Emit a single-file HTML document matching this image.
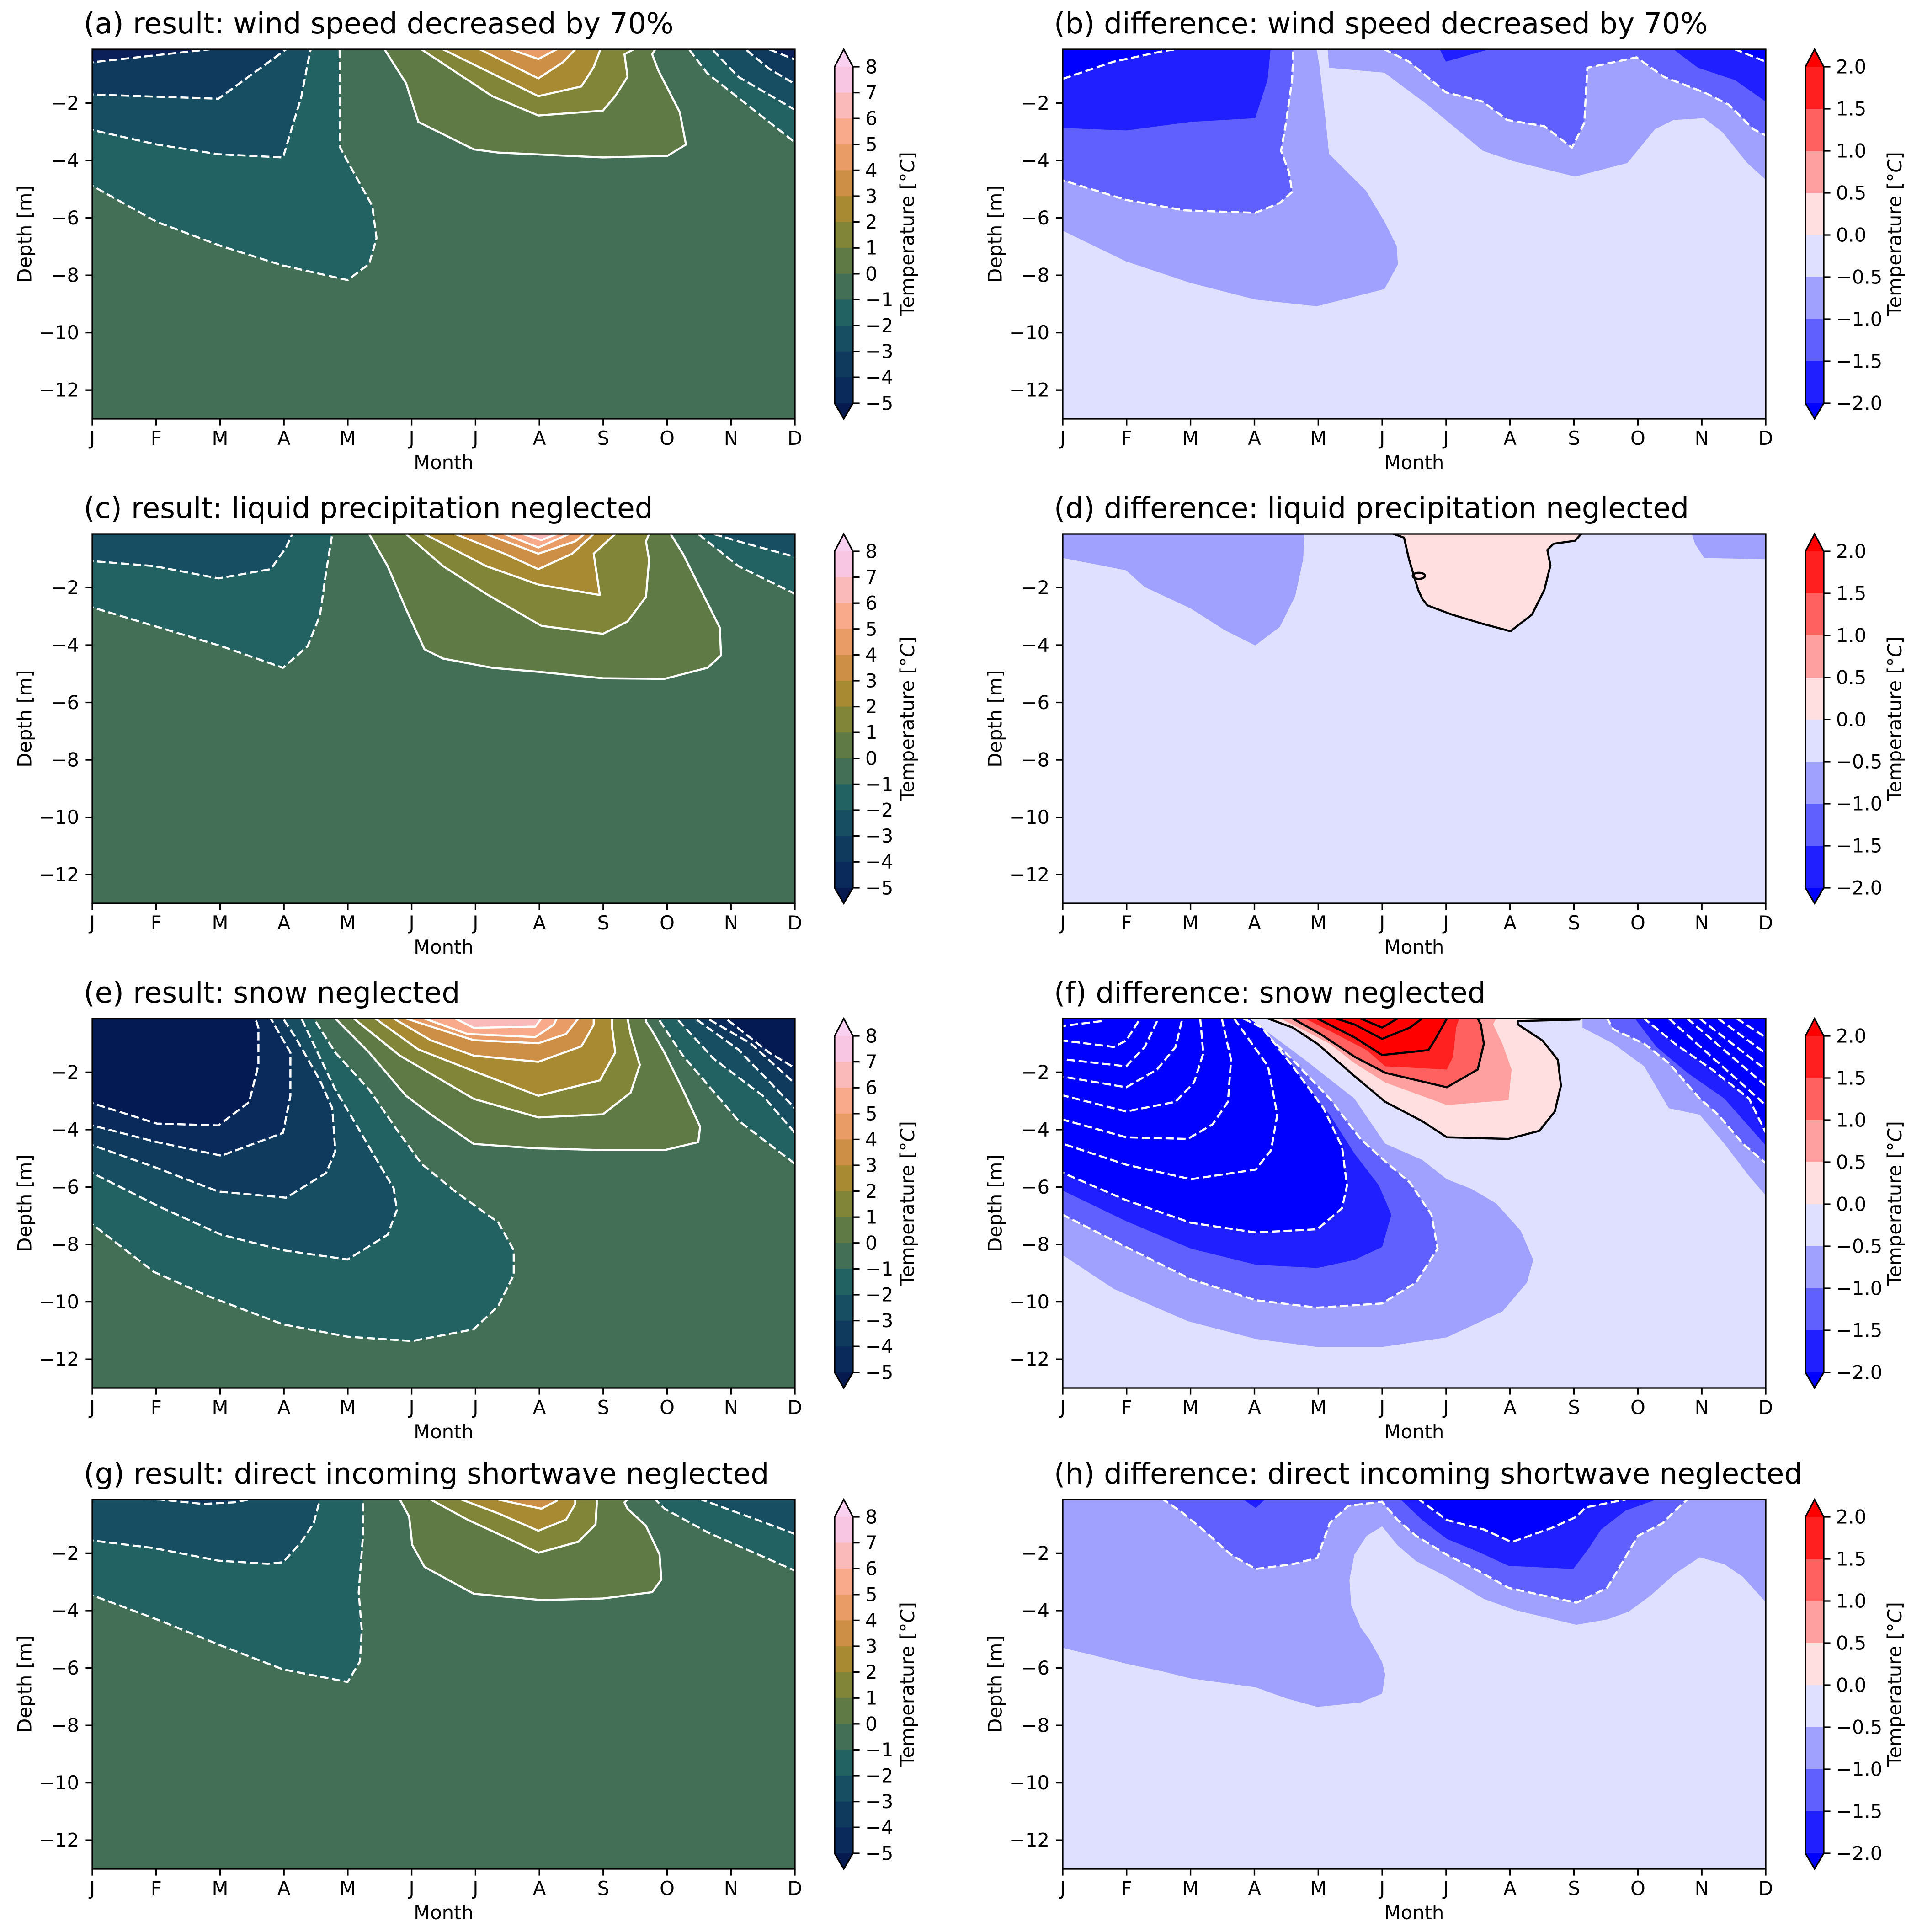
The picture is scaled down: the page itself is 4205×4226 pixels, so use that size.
<!DOCTYPE html>
<html><head><meta charset="utf-8"><style>
html,body{margin:0;padding:0;background:#fff}
svg{display:block}
text{font-family:"DejaVu Sans","Liberation Sans",sans-serif;fill:#000}
.n{stroke:#fff;stroke-width:4.5px;stroke-dasharray:18 8;vector-effect:non-scaling-stroke;stroke-linejoin:round}
.nl{fill:none;stroke:#fff;stroke-width:4.5px;stroke-dasharray:18 8;vector-effect:non-scaling-stroke;stroke-linejoin:round}
.s{stroke:#fff;stroke-width:4.5px;vector-effect:non-scaling-stroke;stroke-linejoin:round}
.k{stroke:#000;stroke-width:4.5px;vector-effect:non-scaling-stroke;stroke-linejoin:round}
.kl{fill:none;stroke:#000;stroke-width:4.5px;vector-effect:non-scaling-stroke}
.t{font-size:41.7px}
.ti{font-size:63px}
.tk{stroke:#000;stroke-width:3.3px;fill:none}
.fr{fill:none;stroke:#000;stroke-width:3.3px}
</style></head><body>
<svg width="4205" height="4226" viewBox="0 0 4205 4226" xmlns="http://www.w3.org/2000/svg">
<defs>
<clipPath id="c1"><rect x="202" y="108" width="1537" height="808"/></clipPath>
<clipPath id="c2"><rect x="2325" y="108" width="1538" height="808"/></clipPath>
<clipPath id="c3"><rect x="202" y="1168" width="1537" height="808"/></clipPath>
<clipPath id="c4"><rect x="2325" y="1168" width="1538" height="808"/></clipPath>
<clipPath id="c5"><rect x="202" y="2228" width="1537" height="808"/></clipPath>
<clipPath id="c6"><rect x="2325" y="2228" width="1538" height="808"/></clipPath>
<clipPath id="c7"><rect x="202" y="3280" width="1537" height="808"/></clipPath>
<clipPath id="c8"><rect x="2325" y="3280" width="1538" height="808"/></clipPath>
</defs>
<rect width="4205" height="4226" fill="#fff"/>

<!-- (a) -->
<g clip-path="url(#c1)">
<rect x="202" y="108" width="1537" height="808" fill="#426f55"/>
<g transform="translate(0.1,-1.4) scale(1.3459,0.7057)">
<path class="n" fill="#236262" d="M100,578 L150,578 L255,690 L360,765 L460,825 L565,870 L600,820 L612,740 L605,640 L570,520 L553,460 L552,155 L552,120 L100,120 Z"/>
<path class="n" fill="#236262" d="M1120,120 L1120,155 L1150,230 L1290,440 L1340,445 L1340,120 Z"/>
<path class="n" fill="#174e62" d="M100,405 L150,405 L255,450 L355,480 L460,490 L490,300 L500,200 L505,155 L505,120 L100,120 Z"/>
<path class="n" fill="#174e62" d="M1160,120 L1160,160 L1200,240 L1290,340 L1340,340 L1340,120 Z"/>
<path class="n" fill="#0f3a5e" d="M100,300 L150,295 L355,308 L465,155 L465,120 L100,120 Z"/>
<path class="n" fill="#0f3a5e" d="M1215,120 L1215,160 L1250,215 L1290,260 L1340,260 L1340,120 Z"/>
<path class="n" fill="#0b2058" d="M100,195 L150,195 L340,155 L340,120 L100,120 Z"/>
<path class="n" fill="#0b2058" d="M1250,120 L1250,155 L1290,185 L1340,185 L1340,120 Z"/>
<path class="s" fill="#5f7a45" d="M625,120 L625,155 L660,260 L680,380 L770,465 L810,475 L980,490 L1085,485 L1115,450 L1105,350 L1070,220 L1060,170 L1065,155 L1065,120 Z"/>
<path class="s" fill="#808538" d="M685,120 L685,155 L800,300 L875,360 L980,345 L1000,300 L1020,240 L1015,170 L1030,155 L1030,120 Z"/>
<path class="s" fill="#a88a33" d="M720,120 L720,155 L800,230 L875,300 L945,270 L965,210 L975,160 L975,120 Z"/>
<path class="s" fill="#cc8f45" d="M780,120 L780,155 L875,245 L915,195 L935,155 L935,120 Z"/>
<path class="s" fill="#e99c66" d="M830,120 L830,155 L875,185 L905,155 L905,120 Z"/>
</g></g>

<!-- (b) -->
<g clip-path="url(#c2)">
<rect x="2325" y="108" width="1538" height="808" fill="#dfdfff"/>
<g transform="translate(2100.3,0.4) scale(1.3456,1.3444)">
<path fill="#a0a0ff" d="M120,40 L120,375 L167,375 L270,425 L375,460 L480,487 L580,498 L690,470 L712,430 L710,400 L690,360 L660,310 L600,250 L595,200 L585,110 L580,80 L580,40 Z"/>
<path fill="#a0a0ff" d="M598,40 L598,80 L600,110 L690,118 L760,170 L850,245 L900,262 L1000,287 L1085,265 L1130,210 L1160,195 L1210,192 L1240,215 L1280,265 L1310,292 L1360,292 L1360,40 Z"/>
<path class="n" fill="#6060ff" d="M120,40 L120,293 L167,293 L270,325 L365,342 L480,346 L520,330 L540,312 L535,280 L522,245 L530,200 L540,130 L542,80 L542,40 Z"/>
<path class="n" fill="#6060ff" d="M690,40 L690,80 L730,100 L790,150 L850,165 L890,195 L950,205 L995,240 L1015,200 L1020,110 L1100,93 L1145,125 L1210,150 L1250,170 L1290,210 L1310,220 L1360,220 L1360,40 Z"/>
<path fill="#1f1fff" d="M120,40 L120,208 L167,208 L270,212 L375,198 L480,192 L500,130 L505,80 L505,40 Z"/>
<path fill="#1f1fff" d="M1160,40 L1160,80 L1200,110 L1260,130 L1310,165 L1360,165 L1360,40 Z"/>
<path fill="#1f1fff" d="M780,40 L780,80 L790,100 L860,80 L860,40 Z"/>
<path class="n" fill="#0000ff" d="M120,40 L120,128 L167,128 L250,100 L330,83 L350,80 L350,40 Z"/>
<path class="n" fill="#0000ff" d="M1260,40 L1260,80 L1310,100 L1360,100 L1360,40 Z"/>
</g></g>

<!-- (c) -->
<g clip-path="url(#c3)">
<rect x="202" y="1168" width="1537" height="808" fill="#426f55"/>
<g transform="translate(0.1,1049.3) scale(1.3459,1.3489)">
<path class="n" fill="#236262" d="M100,207 L150,207 L260,240 L360,270 L460,305 L500,270 L520,220 L530,150 L540,88 L540,50 L100,50 Z"/>
<path class="n" fill="#236262" d="M1135,50 L1135,88 L1200,140 L1292,185 L1340,185 L1340,50 Z"/>
<path class="n" fill="#174e62" d="M100,132 L150,132 L250,140 L355,160 L440,145 L465,110 L475,88 L475,50 L100,50 Z"/>
<path class="n" fill="#174e62" d="M1160,50 L1160,88 L1200,100 L1292,125 L1340,125 L1340,50 Z"/>
<path class="s" fill="#5f7a45" d="M600,50 L600,88 L630,140 L660,210 L690,275 L720,290 L800,305 L880,312 L980,322 L1080,323 L1150,305 L1172,285 L1170,240 L1150,200 L1110,120 L1090,88 L1090,50 Z"/>
<path class="s" fill="#808538" d="M660,50 L660,88 L720,140 L790,185 L880,237 L980,250 L1020,230 L1050,190 L1055,130 L1050,100 L1055,88 L1055,50 Z"/>
<path class="s" fill="#a88a33" d="M690,50 L690,88 L790,140 L875,170 L975,187 L965,120 L1000,88 L1000,50 Z"/>
<path class="s" fill="#cc8f45" d="M740,50 L740,88 L820,120 L875,145 L930,120 L965,88 L965,50 Z"/>
<path class="s" fill="#e99c66" d="M790,50 L790,88 L875,120 L935,100 L950,88 L950,50 Z"/>
<path class="s" fill="#f9aa8b" d="M820,50 L820,88 L875,110 L925,88 L925,50 Z"/>
<path class="s" fill="#fbbaba" d="M850,50 L850,88 L880,98 L905,88 L905,50 Z"/>
</g></g>

<!-- (d) -->
<g clip-path="url(#c4)">
<rect x="2325" y="1168" width="1538" height="808" fill="#dfdfff"/>
<g transform="translate(2100.3,-2.3) scale(1.3456,1.3467)">
<path fill="#a0a0ff" d="M120,830 L120,908 L167,908 L270,928 L300,955 L375,990 L430,1025 L480,1050 L520,1020 L545,970 L558,910 L560,869 L560,830 Z"/>
<path fill="#a0a0ff" d="M1190,830 L1190,869 L1195,885 L1210,908 L1310,910 L1360,910 L1360,830 Z"/>
<path class="k" fill="#ffdfdf" d="M705,830 L705,869 L722,875 L730,910 L745,960 L752,975 L760,985 L800,1000 L850,1015 L895,1027 L930,1000 L950,960 L960,920 L955,895 L965,885 L1000,880 L1010,869 L1010,830 Z"/>
<ellipse class="kl" cx="746" cy="937" rx="10" ry="5"/>
</g></g>

<!-- (e) -->
<g clip-path="url(#c5)">
<rect x="202" y="2228" width="1537" height="808" fill="#426f55"/>
<g transform="translate(0.1,1045.7) scale(1.3459,1.3512)">
<path class="n" fill="#236262" d="M100,1208 L150,1208 L250,1285 L340,1325 L460,1370 L565,1390 L670,1397 L770,1378 L810,1340 L835,1290 L835,1250 L810,1205 L740,1155 L685,1110 L645,1055 L600,990 L545,930 L510,875 L510,840 L100,840 Z"/>
<path class="n" fill="#174e62" d="M100,1125 L150,1125 L260,1180 L360,1225 L460,1250 L565,1265 L630,1225 L645,1185 L640,1150 L610,1100 L575,1040 L545,990 L490,875 L490,840 L100,840 Z"/>
<path class="n" fill="#0f3a5e" d="M100,1080 L150,1080 L250,1115 L355,1155 L465,1165 L530,1125 L545,1090 L540,1020 L520,975 L480,905 L460,875 L460,840 L100,840 Z"/>
<path class="n" fill="#0b2a5c" d="M100,1048 L150,1048 L255,1075 L360,1097 L460,1060 L472,1000 L472,930 L440,875 L440,840 L100,840 Z"/>
<path class="n" fill="#041a52" d="M100,1012 L150,1012 L255,1045 L355,1048 L405,1010 L420,950 L420,890 L415,875 L415,840 L100,840 Z"/>
<path class="n" fill="#236262" d="M1070,840 L1070,875 L1110,935 L1200,1040 L1292,1110 L1340,1110 L1340,840 Z"/>
<path class="n" fill="#174e62" d="M1100,840 L1100,875 L1160,940 L1240,1000 L1292,1060 L1340,1060 L1340,840 Z"/>
<path class="n" fill="#0f3a5e" d="M1130,840 L1130,875 L1200,925 L1292,1020 L1340,1020 L1340,840 Z"/>
<path class="n" fill="#0b2a5c" d="M1150,840 L1150,875 L1220,915 L1292,980 L1340,980 L1340,840 Z"/>
<path class="n" fill="#041a52" d="M1180,840 L1180,875 L1250,930 L1292,955 L1340,955 L1340,840 Z"/>
<path class="s" fill="#5f7a45" d="M545,840 L545,875 L600,930 L660,1000 L700,1030 L770,1078 L870,1085 L980,1088 L1080,1088 L1135,1075 L1138,1050 L1110,990 L1080,930 L1060,895 L1050,880 L1050,840 Z"/>
<path class="s" fill="#808538" d="M575,840 L575,875 L650,935 L770,1005 L875,1035 L980,1030 L1025,995 L1040,950 L1025,900 L1020,875 L1020,840 Z"/>
<path class="s" fill="#a88a33" d="M610,840 L610,875 L680,925 L770,960 L875,1000 L975,975 L1000,930 L995,890 L995,875 L995,840 Z"/>
<path class="s" fill="#cc8f45" d="M640,840 L640,875 L700,910 L770,935 L875,945 L945,920 L965,885 L965,875 L965,840 Z"/>
<path class="s" fill="#e99c66" d="M660,840 L660,875 L770,910 L875,915 L920,900 L940,875 L940,840 Z"/>
<path class="s" fill="#f9aa8b" d="M690,840 L690,875 L760,900 L870,905 L900,885 L905,875 L905,840 Z"/>
<path class="s" fill="#fbbaba" d="M740,840 L740,875 L770,890 L870,888 L880,875 L880,840 Z"/>
</g></g>

<!-- (f) -->
<g clip-path="url(#c6)">
<rect x="2325" y="2228" width="1538" height="808" fill="#dfdfff"/>
<g transform="translate(2099.7,2106.6) scale(1.3491,0.7057)">
<path fill="#a0a0ff" d="M120,130 L120,905 L167,905 L250,1010 L370,1110 L480,1165 L580,1190 L685,1190 L790,1160 L880,1080 L920,990 L930,920 L910,830 L870,745 L830,700 L790,670 L750,610 L690,560 L640,420 L560,300 L470,172 L470,130 Z"/>
<path fill="#a0a0ff" d="M1010,130 L1010,172 L1010,200 L1060,250 L1110,320 L1150,450 L1200,470 L1240,560 L1280,660 L1307,720 L1350,720 L1350,130 Z"/>
<path class="n" fill="#6060ff" d="M120,130 L120,780 L167,780 L270,880 L375,980 L480,1045 L580,1068 L685,1055 L740,990 L775,885 L765,780 L730,680 L690,615 L650,545 L600,420 L540,300 L470,172 L470,130 Z"/>
<path class="n" fill="#6060ff" d="M1050,130 L1050,172 L1060,205 L1110,250 L1150,310 L1200,420 L1230,470 L1270,560 L1307,620 L1350,620 L1350,130 Z"/>
<path fill="#1f1fff" d="M120,130 L120,705 L167,705 L270,800 L375,885 L480,935 L580,945 L640,920 L685,880 L700,780 L680,690 L640,590 L600,470 L540,330 L490,200 L470,172 L470,130 Z"/>
<path fill="#1f1fff" d="M1095,130 L1095,172 L1130,260 L1180,340 L1240,420 L1307,565 L1350,565 L1350,130 Z"/>
<path class="n" fill="#0000ff" d="M120,130 L120,650 L167,650 L270,735 L375,805 L480,835 L580,825 L620,760 L628,690 L620,570 L590,450 L540,320 L490,200 L460,172 L460,130 Z"/>
<path class="n" fill="#0000ff" d="M1110,130 L1110,172 L1160,250 L1220,330 L1280,420 L1307,525 L1350,525 L1350,130 Z"/>
<path class="nl" d="M445,172 L500,320 L515,470 L505,580 L480,640 L375,670 L270,625 L167,560 L120,540"/>
<path class="nl" d="M425,172 L440,300 L435,430 L410,500 L370,545 L270,540 L167,485 L120,470"/>
<path class="nl" d="M390,172 L395,280 L380,370 L350,430 L270,460 L167,410 L120,395"/>
<path class="nl" d="M360,180 L350,260 L320,330 L270,385 L167,352 L120,340"/>
<path class="nl" d="M320,180 L300,260 L270,320 L167,298 L120,290"/>
<path class="nl" d="M290,180 L270,240 L250,260 L167,240 L120,235"/>
<path class="nl" d="M230,180 L167,195 L120,200"/>
<path class="nl" d="M1150,172 L1307,440"/>
<path class="nl" d="M1180,172 L1307,380"/>
<path class="nl" d="M1200,172 L1307,330"/>
<path class="nl" d="M1230,172 L1307,280"/>
<path class="nl" d="M1260,172 L1307,230"/>
<path class="k" fill="#ffdfdf" d="M500,130 L500,172 L540,200 L580,250 L640,350 L690,430 L750,490 L790,540 L890,545 L940,520 L965,460 L975,380 L970,300 L945,240 L905,190 L905,180 L1005,175 L1005,130 Z"/>
<path fill="#ffa0a0" d="M520,130 L520,172 L560,210 L600,250 L640,310 L690,370 L790,440 L890,425 L895,330 L880,250 L865,190 L870,172 L870,130 Z"/>
<path class="k" fill="#ff6060" d="M540,130 L540,172 L585,220 L640,290 L690,340 L790,385 L840,330 L850,250 L845,190 L840,172 L840,130 Z"/>
<path fill="#ff2020" d="M560,130 L560,172 L610,220 L660,270 L690,320 L790,330 L800,290 L805,200 L810,172 L810,130 Z"/>
<path class="k" fill="#ff0000" d="M580,130 L580,172 L640,230 L685,285 L760,270 L770,240 L790,172 L790,130 Z"/>
<path class="kl" d="M610,172 L640,190 L685,235 L730,200 L750,172"/>
<path class="kl" d="M650,172 L685,200 L710,172"/>
</g></g>

<!-- (g) -->
<g clip-path="url(#c7)">
<rect x="202" y="3280" width="1537" height="808" fill="#426f55"/>
<g transform="translate(0.1,3151.8) scale(1.3459,0.6894)">
<path class="n" fill="#236262" d="M100,490 L150,490 L260,570 L360,650 L460,725 L565,765 L585,700 L588,600 L583,480 L590,300 L590,186 L590,140 L100,140 Z"/>
<path class="n" fill="#236262" d="M1065,140 L1065,186 L1080,215 L1150,290 L1290,410 L1340,410 L1340,140 Z"/>
<path class="n" fill="#174e62" d="M100,316 L150,316 L250,340 L355,380 L435,390 L460,385 L490,320 L510,260 L520,186 L520,140 L100,140 Z"/>
<path class="n" fill="#174e62" d="M1140,140 L1140,186 L1230,250 L1292,295 L1340,295 L1340,140 Z"/>
<path class="n" fill="#0f3a5e" d="M100,182 L150,182 L260,186 L330,200 L380,195 L405,186 L405,140 L100,140 Z"/>
<path class="s" fill="#5f7a45" d="M650,140 L650,186 L665,240 L670,330 L690,400 L770,485 L880,505 L980,500 L1060,480 L1075,440 L1072,360 L1050,270 L1020,215 L1015,195 L1020,186 L1020,140 Z"/>
<path class="s" fill="#808538" d="M700,140 L700,186 L760,250 L810,295 L875,355 L940,320 L968,265 L970,200 L970,186 L970,140 Z"/>
<path class="s" fill="#a88a33" d="M750,140 L750,186 L810,230 L875,285 L920,250 L935,200 L935,186 L935,140 Z"/>
<path class="s" fill="#cc8f45" d="M810,140 L810,186 L855,205 L880,215 L905,190 L905,140 Z"/>
</g></g>

<!-- (h) -->
<g clip-path="url(#c8)">
<rect x="2325" y="3280" width="1538" height="808" fill="#dfdfff"/>
<g transform="translate(2099.7,3152.2) scale(1.3491,0.6906)">
<path fill="#a0a0ff" d="M120,140 L120,655 L167,655 L220,680 L270,705 L330,730 L375,752 L480,780 L530,815 L580,842 L650,828 L685,800 L690,740 L685,700 L665,630 L650,590 L635,520 L632,440 L640,360 L660,300 L685,270 L710,330 L740,380 L790,430 L850,500 L900,535 L1000,582 L1050,565 L1085,540 L1120,490 L1160,420 L1200,368 L1240,390 L1270,430 L1307,510 L1350,510 L1350,140 Z"/>
<path class="n" fill="#6060ff" d="M330,140 L330,185 L360,225 L400,290 L440,360 L480,405 L540,390 L580,370 L600,260 L630,205 L685,192 L710,250 L740,300 L790,360 L840,410 L890,465 L1000,512 L1050,465 L1085,350 L1100,300 L1140,260 L1160,220 L1180,185 L1180,140 Z"/>
<path fill="#1f1fff" d="M715,140 L715,185 L750,250 L790,310 L840,350 L890,395 L995,405 L1020,340 L1040,280 L1080,220 L1130,185 L1130,140 Z"/>
<path fill="#1f1fff" d="M460,140 L460,185 L480,212 L495,185 L495,140 Z"/>
<path class="n" fill="#0000ff" d="M745,140 L745,185 L790,250 L850,280 L895,320 L960,275 L1000,240 L1015,210 L1080,185 L1080,140 Z"/>
</g></g>

<!-- frames -->
<rect class="fr" x="202" y="108" width="1537" height="808"/>
<rect class="fr" x="2325" y="108" width="1538" height="808"/>
<rect class="fr" x="202" y="1168" width="1537" height="808"/>
<rect class="fr" x="2325" y="1168" width="1538" height="808"/>
<rect class="fr" x="202" y="2228" width="1537" height="808"/>
<rect class="fr" x="2325" y="2228" width="1538" height="808"/>
<rect class="fr" x="202" y="3280" width="1537" height="808"/>
<rect class="fr" x="2325" y="3280" width="1538" height="808"/>

<!-- Left column decorations per row -->
<g transform="translate(0,108)">
<path class="tk" d="M187.4,117.4H202M187.4,243H202M187.4,368.5H202M187.4,494.1H202M187.4,619.6H202M187.4,745.2H202M202,808V822.6M341.7,808V822.6M481.5,808V822.6M621.2,808V822.6M760.9,808V822.6M900.6,808V822.6M1040.4,808V822.6M1180.1,808V822.6M1319.8,808V822.6M1459.6,808V822.6M1599.3,808V822.6M1739,808V822.6"/>
<g class="t" text-anchor="end" dominant-baseline="central"><text x="173" y="117.4">−2</text><text x="173" y="243">−4</text><text x="173" y="368.5">−6</text><text x="173" y="494.1">−8</text><text x="173" y="619.6">−10</text><text x="173" y="745.2">−12</text></g>
<g class="t" text-anchor="middle"><text x="202" y="865">J</text><text x="341.7" y="865">F</text><text x="481.5" y="865">M</text><text x="621.2" y="865">A</text><text x="760.9" y="865">M</text><text x="900.6" y="865">J</text><text x="1040.4" y="865">J</text><text x="1180.1" y="865">A</text><text x="1319.8" y="865">S</text><text x="1459.6" y="865">O</text><text x="1599.3" y="865">N</text><text x="1739" y="865">D</text>
<text x="970.5" y="918">Month</text>
<text transform="translate(54,404) rotate(-90)" dominant-baseline="central">Depth [m]</text></g>
<text class="ti" x="183" y="-35">(a) result: wind speed decreased by 70%</text>
</g>
<g transform="translate(0,1168)">
<path class="tk" d="M187.4,117.4H202M187.4,243H202M187.4,368.5H202M187.4,494.1H202M187.4,619.6H202M187.4,745.2H202M202,808V822.6M341.7,808V822.6M481.5,808V822.6M621.2,808V822.6M760.9,808V822.6M900.6,808V822.6M1040.4,808V822.6M1180.1,808V822.6M1319.8,808V822.6M1459.6,808V822.6M1599.3,808V822.6M1739,808V822.6"/>
<g class="t" text-anchor="end" dominant-baseline="central"><text x="173" y="117.4">−2</text><text x="173" y="243">−4</text><text x="173" y="368.5">−6</text><text x="173" y="494.1">−8</text><text x="173" y="619.6">−10</text><text x="173" y="745.2">−12</text></g>
<g class="t" text-anchor="middle"><text x="202" y="865">J</text><text x="341.7" y="865">F</text><text x="481.5" y="865">M</text><text x="621.2" y="865">A</text><text x="760.9" y="865">M</text><text x="900.6" y="865">J</text><text x="1040.4" y="865">J</text><text x="1180.1" y="865">A</text><text x="1319.8" y="865">S</text><text x="1459.6" y="865">O</text><text x="1599.3" y="865">N</text><text x="1739" y="865">D</text>
<text x="970.5" y="918">Month</text>
<text transform="translate(54,404) rotate(-90)" dominant-baseline="central">Depth [m]</text></g>
<text class="ti" x="183" y="-35">(c) result: liquid precipitation neglected</text>
</g>
<g transform="translate(0,2228)">
<path class="tk" d="M187.4,117.4H202M187.4,243H202M187.4,368.5H202M187.4,494.1H202M187.4,619.6H202M187.4,745.2H202M202,808V822.6M341.7,808V822.6M481.5,808V822.6M621.2,808V822.6M760.9,808V822.6M900.6,808V822.6M1040.4,808V822.6M1180.1,808V822.6M1319.8,808V822.6M1459.6,808V822.6M1599.3,808V822.6M1739,808V822.6"/>
<g class="t" text-anchor="end" dominant-baseline="central"><text x="173" y="117.4">−2</text><text x="173" y="243">−4</text><text x="173" y="368.5">−6</text><text x="173" y="494.1">−8</text><text x="173" y="619.6">−10</text><text x="173" y="745.2">−12</text></g>
<g class="t" text-anchor="middle"><text x="202" y="865">J</text><text x="341.7" y="865">F</text><text x="481.5" y="865">M</text><text x="621.2" y="865">A</text><text x="760.9" y="865">M</text><text x="900.6" y="865">J</text><text x="1040.4" y="865">J</text><text x="1180.1" y="865">A</text><text x="1319.8" y="865">S</text><text x="1459.6" y="865">O</text><text x="1599.3" y="865">N</text><text x="1739" y="865">D</text>
<text x="970.5" y="918">Month</text>
<text transform="translate(54,404) rotate(-90)" dominant-baseline="central">Depth [m]</text></g>
<text class="ti" x="183" y="-35">(e) result: snow neglected</text>
</g>
<g transform="translate(0,3280)">
<path class="tk" d="M187.4,117.4H202M187.4,243H202M187.4,368.5H202M187.4,494.1H202M187.4,619.6H202M187.4,745.2H202M202,808V822.6M341.7,808V822.6M481.5,808V822.6M621.2,808V822.6M760.9,808V822.6M900.6,808V822.6M1040.4,808V822.6M1180.1,808V822.6M1319.8,808V822.6M1459.6,808V822.6M1599.3,808V822.6M1739,808V822.6"/>
<g class="t" text-anchor="end" dominant-baseline="central"><text x="173" y="117.4">−2</text><text x="173" y="243">−4</text><text x="173" y="368.5">−6</text><text x="173" y="494.1">−8</text><text x="173" y="619.6">−10</text><text x="173" y="745.2">−12</text></g>
<g class="t" text-anchor="middle"><text x="202" y="865">J</text><text x="341.7" y="865">F</text><text x="481.5" y="865">M</text><text x="621.2" y="865">A</text><text x="760.9" y="865">M</text><text x="900.6" y="865">J</text><text x="1040.4" y="865">J</text><text x="1180.1" y="865">A</text><text x="1319.8" y="865">S</text><text x="1459.6" y="865">O</text><text x="1599.3" y="865">N</text><text x="1739" y="865">D</text>
<text x="970.5" y="918">Month</text>
<text transform="translate(54,404) rotate(-90)" dominant-baseline="central">Depth [m]</text></g>
<text class="ti" x="183" y="-35">(g) result: direct incoming shortwave neglected</text>
</g>

<!-- Right column decorations -->
<g transform="translate(0,108)">
<path class="tk" d="M2310.4,117.4H2325M2310.4,243H2325M2310.4,368.5H2325M2310.4,494.1H2325M2310.4,619.6H2325M2310.4,745.2H2325M2325,808V822.6M2464.8,808V822.6M2604.6,808V822.6M2744.5,808V822.6M2884.3,808V822.6M3024.1,808V822.6M3163.9,808V822.6M3303.7,808V822.6M3443.6,808V822.6M3583.4,808V822.6M3723.2,808V822.6M3863,808V822.6"/>
<g class="t" text-anchor="end" dominant-baseline="central"><text x="2296" y="117.4">−2</text><text x="2296" y="243">−4</text><text x="2296" y="368.5">−6</text><text x="2296" y="494.1">−8</text><text x="2296" y="619.6">−10</text><text x="2296" y="745.2">−12</text></g>
<g class="t" text-anchor="middle"><text x="2325" y="865">J</text><text x="2464.8" y="865">F</text><text x="2604.6" y="865">M</text><text x="2744.5" y="865">A</text><text x="2884.3" y="865">M</text><text x="3024.1" y="865">J</text><text x="3163.9" y="865">J</text><text x="3303.7" y="865">A</text><text x="3443.6" y="865">S</text><text x="3583.4" y="865">O</text><text x="3723.2" y="865">N</text><text x="3863" y="865">D</text>
<text x="3094" y="918">Month</text>
<text transform="translate(2177,404) rotate(-90)" dominant-baseline="central">Depth [m]</text></g>
<text class="ti" x="2306" y="-35">(b) difference: wind speed decreased by 70%</text>
</g>
<g transform="translate(0,1168)">
<path class="tk" d="M2310.4,117.4H2325M2310.4,243H2325M2310.4,368.5H2325M2310.4,494.1H2325M2310.4,619.6H2325M2310.4,745.2H2325M2325,808V822.6M2464.8,808V822.6M2604.6,808V822.6M2744.5,808V822.6M2884.3,808V822.6M3024.1,808V822.6M3163.9,808V822.6M3303.7,808V822.6M3443.6,808V822.6M3583.4,808V822.6M3723.2,808V822.6M3863,808V822.6"/>
<g class="t" text-anchor="end" dominant-baseline="central"><text x="2296" y="117.4">−2</text><text x="2296" y="243">−4</text><text x="2296" y="368.5">−6</text><text x="2296" y="494.1">−8</text><text x="2296" y="619.6">−10</text><text x="2296" y="745.2">−12</text></g>
<g class="t" text-anchor="middle"><text x="2325" y="865">J</text><text x="2464.8" y="865">F</text><text x="2604.6" y="865">M</text><text x="2744.5" y="865">A</text><text x="2884.3" y="865">M</text><text x="3024.1" y="865">J</text><text x="3163.9" y="865">J</text><text x="3303.7" y="865">A</text><text x="3443.6" y="865">S</text><text x="3583.4" y="865">O</text><text x="3723.2" y="865">N</text><text x="3863" y="865">D</text>
<text x="3094" y="918">Month</text>
<text transform="translate(2177,404) rotate(-90)" dominant-baseline="central">Depth [m]</text></g>
<text class="ti" x="2306" y="-35">(d) difference: liquid precipitation neglected</text>
</g>
<g transform="translate(0,2228)">
<path class="tk" d="M2310.4,117.4H2325M2310.4,243H2325M2310.4,368.5H2325M2310.4,494.1H2325M2310.4,619.6H2325M2310.4,745.2H2325M2325,808V822.6M2464.8,808V822.6M2604.6,808V822.6M2744.5,808V822.6M2884.3,808V822.6M3024.1,808V822.6M3163.9,808V822.6M3303.7,808V822.6M3443.6,808V822.6M3583.4,808V822.6M3723.2,808V822.6M3863,808V822.6"/>
<g class="t" text-anchor="end" dominant-baseline="central"><text x="2296" y="117.4">−2</text><text x="2296" y="243">−4</text><text x="2296" y="368.5">−6</text><text x="2296" y="494.1">−8</text><text x="2296" y="619.6">−10</text><text x="2296" y="745.2">−12</text></g>
<g class="t" text-anchor="middle"><text x="2325" y="865">J</text><text x="2464.8" y="865">F</text><text x="2604.6" y="865">M</text><text x="2744.5" y="865">A</text><text x="2884.3" y="865">M</text><text x="3024.1" y="865">J</text><text x="3163.9" y="865">J</text><text x="3303.7" y="865">A</text><text x="3443.6" y="865">S</text><text x="3583.4" y="865">O</text><text x="3723.2" y="865">N</text><text x="3863" y="865">D</text>
<text x="3094" y="918">Month</text>
<text transform="translate(2177,404) rotate(-90)" dominant-baseline="central">Depth [m]</text></g>
<text class="ti" x="2306" y="-35">(f) difference: snow neglected</text>
</g>
<g transform="translate(0,3280)">
<path class="tk" d="M2310.4,117.4H2325M2310.4,243H2325M2310.4,368.5H2325M2310.4,494.1H2325M2310.4,619.6H2325M2310.4,745.2H2325M2325,808V822.6M2464.8,808V822.6M2604.6,808V822.6M2744.5,808V822.6M2884.3,808V822.6M3024.1,808V822.6M3163.9,808V822.6M3303.7,808V822.6M3443.6,808V822.6M3583.4,808V822.6M3723.2,808V822.6M3863,808V822.6"/>
<g class="t" text-anchor="end" dominant-baseline="central"><text x="2296" y="117.4">−2</text><text x="2296" y="243">−4</text><text x="2296" y="368.5">−6</text><text x="2296" y="494.1">−8</text><text x="2296" y="619.6">−10</text><text x="2296" y="745.2">−12</text></g>
<g class="t" text-anchor="middle"><text x="2325" y="865">J</text><text x="2464.8" y="865">F</text><text x="2604.6" y="865">M</text><text x="2744.5" y="865">A</text><text x="2884.3" y="865">M</text><text x="3024.1" y="865">J</text><text x="3163.9" y="865">J</text><text x="3303.7" y="865">A</text><text x="3443.6" y="865">S</text><text x="3583.4" y="865">O</text><text x="3723.2" y="865">N</text><text x="3863" y="865">D</text>
<text x="3094" y="918">Month</text>
<text transform="translate(2177,404) rotate(-90)" dominant-baseline="central">Depth [m]</text></g>
<text class="ti" x="2306" y="-35">(h) difference: direct incoming shortwave neglected</text>
</g>

<!-- Result colorbars (left) -->
<g transform="translate(0,108)">
<polygon points="1826,38 1866,38 1846,0" fill="#fad0f0"/>
<rect x="1826" y="38" width="40" height="57" fill="#f8c6e2"/><rect x="1826" y="94.6" width="40" height="57" fill="#fbbaba"/><rect x="1826" y="151.2" width="40" height="57" fill="#f9aa8b"/><rect x="1826" y="207.8" width="40" height="57" fill="#e99c66"/><rect x="1826" y="264.4" width="40" height="57" fill="#cc8f45"/><rect x="1826" y="321" width="40" height="57" fill="#a88a33"/><rect x="1826" y="377.6" width="40" height="57" fill="#808538"/><rect x="1826" y="434.2" width="40" height="57" fill="#5f7a45"/><rect x="1826" y="490.8" width="40" height="57" fill="#426f55"/><rect x="1826" y="547.4" width="40" height="57" fill="#236262"/><rect x="1826" y="604" width="40" height="57" fill="#174e62"/><rect x="1826" y="660.6" width="40" height="57" fill="#0f3a5e"/><rect x="1826" y="717.2" width="40" height="56.8" fill="#0b2a5c"/>
<polygon points="1826,774 1866,774 1846,808" fill="#061a50"/>
<polygon class="fr" points="1846,0 1866,38 1866,774 1846,808 1826,774 1826,38"/>
<path class="tk" d="M1866,38h14.6M1866,94.6h14.6M1866,151.2h14.6M1866,207.8h14.6M1866,264.4h14.6M1866,321h14.6M1866,377.6h14.6M1866,434.2h14.6M1866,490.8h14.6M1866,547.4h14.6M1866,604h14.6M1866,660.6h14.6M1866,717.2h14.6M1866,774h14.6"/>
<g class="t" dominant-baseline="central"><text x="1893" y="38">8</text><text x="1893" y="94.6">7</text><text x="1893" y="151.2">6</text><text x="1893" y="207.8">5</text><text x="1893" y="264.4">4</text><text x="1893" y="321">3</text><text x="1893" y="377.6">2</text><text x="1893" y="434.2">1</text><text x="1893" y="490.8">0</text><text x="1893" y="547.4">−1</text><text x="1893" y="604">−2</text><text x="1893" y="660.6">−3</text><text x="1893" y="717.2">−4</text><text x="1893" y="774">−5</text>
<text transform="translate(1985,404) rotate(-90)" text-anchor="middle">Temperature [°<tspan font-style="italic">C</tspan>]</text></g>
</g>
<g transform="translate(0,1168)">
<polygon points="1826,38 1866,38 1846,0" fill="#fad0f0"/>
<rect x="1826" y="38" width="40" height="57" fill="#f8c6e2"/><rect x="1826" y="94.6" width="40" height="57" fill="#fbbaba"/><rect x="1826" y="151.2" width="40" height="57" fill="#f9aa8b"/><rect x="1826" y="207.8" width="40" height="57" fill="#e99c66"/><rect x="1826" y="264.4" width="40" height="57" fill="#cc8f45"/><rect x="1826" y="321" width="40" height="57" fill="#a88a33"/><rect x="1826" y="377.6" width="40" height="57" fill="#808538"/><rect x="1826" y="434.2" width="40" height="57" fill="#5f7a45"/><rect x="1826" y="490.8" width="40" height="57" fill="#426f55"/><rect x="1826" y="547.4" width="40" height="57" fill="#236262"/><rect x="1826" y="604" width="40" height="57" fill="#174e62"/><rect x="1826" y="660.6" width="40" height="57" fill="#0f3a5e"/><rect x="1826" y="717.2" width="40" height="56.8" fill="#0b2a5c"/>
<polygon points="1826,774 1866,774 1846,808" fill="#061a50"/>
<polygon class="fr" points="1846,0 1866,38 1866,774 1846,808 1826,774 1826,38"/>
<path class="tk" d="M1866,38h14.6M1866,94.6h14.6M1866,151.2h14.6M1866,207.8h14.6M1866,264.4h14.6M1866,321h14.6M1866,377.6h14.6M1866,434.2h14.6M1866,490.8h14.6M1866,547.4h14.6M1866,604h14.6M1866,660.6h14.6M1866,717.2h14.6M1866,774h14.6"/>
<g class="t" dominant-baseline="central"><text x="1893" y="38">8</text><text x="1893" y="94.6">7</text><text x="1893" y="151.2">6</text><text x="1893" y="207.8">5</text><text x="1893" y="264.4">4</text><text x="1893" y="321">3</text><text x="1893" y="377.6">2</text><text x="1893" y="434.2">1</text><text x="1893" y="490.8">0</text><text x="1893" y="547.4">−1</text><text x="1893" y="604">−2</text><text x="1893" y="660.6">−3</text><text x="1893" y="717.2">−4</text><text x="1893" y="774">−5</text>
<text transform="translate(1985,404) rotate(-90)" text-anchor="middle">Temperature [°<tspan font-style="italic">C</tspan>]</text></g>
</g>
<g transform="translate(0,2228)">
<polygon points="1826,38 1866,38 1846,0" fill="#fad0f0"/>
<rect x="1826" y="38" width="40" height="57" fill="#f8c6e2"/><rect x="1826" y="94.6" width="40" height="57" fill="#fbbaba"/><rect x="1826" y="151.2" width="40" height="57" fill="#f9aa8b"/><rect x="1826" y="207.8" width="40" height="57" fill="#e99c66"/><rect x="1826" y="264.4" width="40" height="57" fill="#cc8f45"/><rect x="1826" y="321" width="40" height="57" fill="#a88a33"/><rect x="1826" y="377.6" width="40" height="57" fill="#808538"/><rect x="1826" y="434.2" width="40" height="57" fill="#5f7a45"/><rect x="1826" y="490.8" width="40" height="57" fill="#426f55"/><rect x="1826" y="547.4" width="40" height="57" fill="#236262"/><rect x="1826" y="604" width="40" height="57" fill="#174e62"/><rect x="1826" y="660.6" width="40" height="57" fill="#0f3a5e"/><rect x="1826" y="717.2" width="40" height="56.8" fill="#0b2a5c"/>
<polygon points="1826,774 1866,774 1846,808" fill="#061a50"/>
<polygon class="fr" points="1846,0 1866,38 1866,774 1846,808 1826,774 1826,38"/>
<path class="tk" d="M1866,38h14.6M1866,94.6h14.6M1866,151.2h14.6M1866,207.8h14.6M1866,264.4h14.6M1866,321h14.6M1866,377.6h14.6M1866,434.2h14.6M1866,490.8h14.6M1866,547.4h14.6M1866,604h14.6M1866,660.6h14.6M1866,717.2h14.6M1866,774h14.6"/>
<g class="t" dominant-baseline="central"><text x="1893" y="38">8</text><text x="1893" y="94.6">7</text><text x="1893" y="151.2">6</text><text x="1893" y="207.8">5</text><text x="1893" y="264.4">4</text><text x="1893" y="321">3</text><text x="1893" y="377.6">2</text><text x="1893" y="434.2">1</text><text x="1893" y="490.8">0</text><text x="1893" y="547.4">−1</text><text x="1893" y="604">−2</text><text x="1893" y="660.6">−3</text><text x="1893" y="717.2">−4</text><text x="1893" y="774">−5</text>
<text transform="translate(1985,404) rotate(-90)" text-anchor="middle">Temperature [°<tspan font-style="italic">C</tspan>]</text></g>
</g>
<g transform="translate(0,3280)">
<polygon points="1826,38 1866,38 1846,0" fill="#fad0f0"/>
<rect x="1826" y="38" width="40" height="57" fill="#f8c6e2"/><rect x="1826" y="94.6" width="40" height="57" fill="#fbbaba"/><rect x="1826" y="151.2" width="40" height="57" fill="#f9aa8b"/><rect x="1826" y="207.8" width="40" height="57" fill="#e99c66"/><rect x="1826" y="264.4" width="40" height="57" fill="#cc8f45"/><rect x="1826" y="321" width="40" height="57" fill="#a88a33"/><rect x="1826" y="377.6" width="40" height="57" fill="#808538"/><rect x="1826" y="434.2" width="40" height="57" fill="#5f7a45"/><rect x="1826" y="490.8" width="40" height="57" fill="#426f55"/><rect x="1826" y="547.4" width="40" height="57" fill="#236262"/><rect x="1826" y="604" width="40" height="57" fill="#174e62"/><rect x="1826" y="660.6" width="40" height="57" fill="#0f3a5e"/><rect x="1826" y="717.2" width="40" height="56.8" fill="#0b2a5c"/>
<polygon points="1826,774 1866,774 1846,808" fill="#061a50"/>
<polygon class="fr" points="1846,0 1866,38 1866,774 1846,808 1826,774 1826,38"/>
<path class="tk" d="M1866,38h14.6M1866,94.6h14.6M1866,151.2h14.6M1866,207.8h14.6M1866,264.4h14.6M1866,321h14.6M1866,377.6h14.6M1866,434.2h14.6M1866,490.8h14.6M1866,547.4h14.6M1866,604h14.6M1866,660.6h14.6M1866,717.2h14.6M1866,774h14.6"/>
<g class="t" dominant-baseline="central"><text x="1893" y="38">8</text><text x="1893" y="94.6">7</text><text x="1893" y="151.2">6</text><text x="1893" y="207.8">5</text><text x="1893" y="264.4">4</text><text x="1893" y="321">3</text><text x="1893" y="377.6">2</text><text x="1893" y="434.2">1</text><text x="1893" y="490.8">0</text><text x="1893" y="547.4">−1</text><text x="1893" y="604">−2</text><text x="1893" y="660.6">−3</text><text x="1893" y="717.2">−4</text><text x="1893" y="774">−5</text>
<text transform="translate(1985,404) rotate(-90)" text-anchor="middle">Temperature [°<tspan font-style="italic">C</tspan>]</text></g>
</g>

<!-- Difference colorbars (right) -->
<g transform="translate(0,108)">
<polygon points="3950,38 3990,38 3970,0" fill="#ff0000"/>
<rect x="3950" y="38" width="40" height="93" fill="#ff1f1f"/><rect x="3950" y="130" width="40" height="93" fill="#ff6060"/><rect x="3950" y="222" width="40" height="93" fill="#ffa0a0"/><rect x="3950" y="314" width="40" height="93" fill="#ffdfdf"/><rect x="3950" y="406" width="40" height="93" fill="#dfdfff"/><rect x="3950" y="498" width="40" height="93" fill="#a0a0ff"/><rect x="3950" y="590" width="40" height="93" fill="#6060ff"/><rect x="3950" y="682" width="40" height="92" fill="#1f1fff"/>
<polygon points="3950,774 3990,774 3970,808" fill="#0000ff"/>
<polygon class="fr" points="3970,0 3990,38 3990,774 3970,808 3950,774 3950,38"/>
<path class="tk" d="M3990,38h14.6M3990,130h14.6M3990,222h14.6M3990,314h14.6M3990,406h14.6M3990,498h14.6M3990,590h14.6M3990,682h14.6M3990,774h14.6"/>
<g class="t" dominant-baseline="central"><text x="4017" y="38">2.0</text><text x="4017" y="130">1.5</text><text x="4017" y="222">1.0</text><text x="4017" y="314">0.5</text><text x="4017" y="406">0.0</text><text x="4017" y="498">−0.5</text><text x="4017" y="590">−1.0</text><text x="4017" y="682">−1.5</text><text x="4017" y="774">−2.0</text>
<text transform="translate(4145,404) rotate(-90)" text-anchor="middle">Temperature [°<tspan font-style="italic">C</tspan>]</text></g>
</g>
<g transform="translate(0,1168)">
<polygon points="3950,38 3990,38 3970,0" fill="#ff0000"/>
<rect x="3950" y="38" width="40" height="93" fill="#ff1f1f"/><rect x="3950" y="130" width="40" height="93" fill="#ff6060"/><rect x="3950" y="222" width="40" height="93" fill="#ffa0a0"/><rect x="3950" y="314" width="40" height="93" fill="#ffdfdf"/><rect x="3950" y="406" width="40" height="93" fill="#dfdfff"/><rect x="3950" y="498" width="40" height="93" fill="#a0a0ff"/><rect x="3950" y="590" width="40" height="93" fill="#6060ff"/><rect x="3950" y="682" width="40" height="92" fill="#1f1fff"/>
<polygon points="3950,774 3990,774 3970,808" fill="#0000ff"/>
<polygon class="fr" points="3970,0 3990,38 3990,774 3970,808 3950,774 3950,38"/>
<path class="tk" d="M3990,38h14.6M3990,130h14.6M3990,222h14.6M3990,314h14.6M3990,406h14.6M3990,498h14.6M3990,590h14.6M3990,682h14.6M3990,774h14.6"/>
<g class="t" dominant-baseline="central"><text x="4017" y="38">2.0</text><text x="4017" y="130">1.5</text><text x="4017" y="222">1.0</text><text x="4017" y="314">0.5</text><text x="4017" y="406">0.0</text><text x="4017" y="498">−0.5</text><text x="4017" y="590">−1.0</text><text x="4017" y="682">−1.5</text><text x="4017" y="774">−2.0</text>
<text transform="translate(4145,404) rotate(-90)" text-anchor="middle">Temperature [°<tspan font-style="italic">C</tspan>]</text></g>
</g>
<g transform="translate(0,2228)">
<polygon points="3950,38 3990,38 3970,0" fill="#ff0000"/>
<rect x="3950" y="38" width="40" height="93" fill="#ff1f1f"/><rect x="3950" y="130" width="40" height="93" fill="#ff6060"/><rect x="3950" y="222" width="40" height="93" fill="#ffa0a0"/><rect x="3950" y="314" width="40" height="93" fill="#ffdfdf"/><rect x="3950" y="406" width="40" height="93" fill="#dfdfff"/><rect x="3950" y="498" width="40" height="93" fill="#a0a0ff"/><rect x="3950" y="590" width="40" height="93" fill="#6060ff"/><rect x="3950" y="682" width="40" height="92" fill="#1f1fff"/>
<polygon points="3950,774 3990,774 3970,808" fill="#0000ff"/>
<polygon class="fr" points="3970,0 3990,38 3990,774 3970,808 3950,774 3950,38"/>
<path class="tk" d="M3990,38h14.6M3990,130h14.6M3990,222h14.6M3990,314h14.6M3990,406h14.6M3990,498h14.6M3990,590h14.6M3990,682h14.6M3990,774h14.6"/>
<g class="t" dominant-baseline="central"><text x="4017" y="38">2.0</text><text x="4017" y="130">1.5</text><text x="4017" y="222">1.0</text><text x="4017" y="314">0.5</text><text x="4017" y="406">0.0</text><text x="4017" y="498">−0.5</text><text x="4017" y="590">−1.0</text><text x="4017" y="682">−1.5</text><text x="4017" y="774">−2.0</text>
<text transform="translate(4145,404) rotate(-90)" text-anchor="middle">Temperature [°<tspan font-style="italic">C</tspan>]</text></g>
</g>
<g transform="translate(0,3280)">
<polygon points="3950,38 3990,38 3970,0" fill="#ff0000"/>
<rect x="3950" y="38" width="40" height="93" fill="#ff1f1f"/><rect x="3950" y="130" width="40" height="93" fill="#ff6060"/><rect x="3950" y="222" width="40" height="93" fill="#ffa0a0"/><rect x="3950" y="314" width="40" height="93" fill="#ffdfdf"/><rect x="3950" y="406" width="40" height="93" fill="#dfdfff"/><rect x="3950" y="498" width="40" height="93" fill="#a0a0ff"/><rect x="3950" y="590" width="40" height="93" fill="#6060ff"/><rect x="3950" y="682" width="40" height="92" fill="#1f1fff"/>
<polygon points="3950,774 3990,774 3970,808" fill="#0000ff"/>
<polygon class="fr" points="3970,0 3990,38 3990,774 3970,808 3950,774 3950,38"/>
<path class="tk" d="M3990,38h14.6M3990,130h14.6M3990,222h14.6M3990,314h14.6M3990,406h14.6M3990,498h14.6M3990,590h14.6M3990,682h14.6M3990,774h14.6"/>
<g class="t" dominant-baseline="central"><text x="4017" y="38">2.0</text><text x="4017" y="130">1.5</text><text x="4017" y="222">1.0</text><text x="4017" y="314">0.5</text><text x="4017" y="406">0.0</text><text x="4017" y="498">−0.5</text><text x="4017" y="590">−1.0</text><text x="4017" y="682">−1.5</text><text x="4017" y="774">−2.0</text>
<text transform="translate(4145,404) rotate(-90)" text-anchor="middle">Temperature [°<tspan font-style="italic">C</tspan>]</text></g>
</g>
</svg>
</body></html>
